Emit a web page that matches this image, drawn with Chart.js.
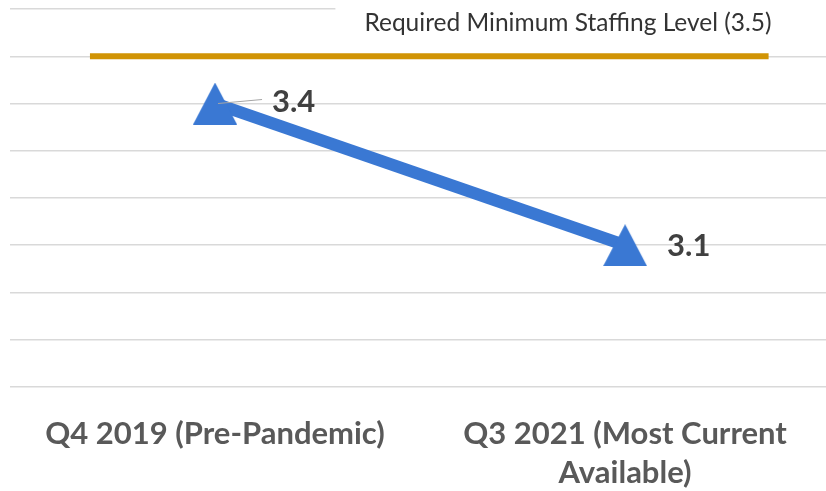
<!DOCTYPE html>
<html>
<head>
<meta charset="utf-8">
<script src="https://cdn.jsdelivr.net/npm/chart.js@4/dist/chart.umd.min.js"></script>
<style>
  html, body { margin: 0; padding: 0; background: #fff; }
  #wrap { width: 826px; height: 491px; }
</style>
</head>
<body>
<div id="wrap"><canvas id="myChart"></canvas></div>
<script>
// categories sit at x = 0 and x = 1 on a linear axis
const categories = [
    'Q4 2019 (Pre-Pandemic)',
    ['Q3 2021 (Most Current', 'Available)']
];
const staffing = [3.4, 3.1];
const staffingLabels = ['3.4', '3.1'];

const requiredLevel = 3.5;
const requiredLabel = 'Required Minimum Staffing Level (3.5)';
const requiredSpan = [-0.305, 1.35];   // how far the reference line runs, in category units

const yTicks = [2.8, 2.9, 3.0, 3.1, 3.2, 3.3, 3.4, 3.5, 3.6];

const blue = '#3a78d3';
const gold = '#d19405';

// Excel-style triangle marker, centred on its bounding box
function makeTriangle(w, h, color) {
    const c = document.createElement('canvas');
    c.width = w;
    c.height = h;
    const g = c.getContext('2d');
    g.fillStyle = color;
    g.beginPath();
    g.moveTo(w / 2, 0);
    g.lineTo(w, h);
    g.lineTo(0, h);
    g.closePath();
    g.fill();
    return c;
}
const triangle = makeTriangle(44, 42, blue);

// labels for the points + the reference line caption
const labelPlugin = {
    id: 'labels',
    beforeDatasetsDraw(chart) {
        const ctx = chart.ctx;
        const meta = chart.getDatasetMeta(1);
        const last = meta.data[meta.data.length - 1];
        ctx.save();
        ctx.font = '24.5px Lato';
        const w = ctx.measureText(requiredLabel).width;
        // white box hides the top gridline behind the caption
        ctx.fillStyle = '#fff';
        ctx.fillRect(last.x - w - 26, 0, chart.width, last.y - 12);
        ctx.fillStyle = '#333333';
        ctx.textAlign = 'right';
        ctx.textBaseline = 'middle';
        ctx.fillText(requiredLabel, last.x + 3, last.y - 33);
        ctx.restore();
    },
    afterDatasetsDraw(chart) {
        const ctx = chart.ctx;
        const meta = chart.getDatasetMeta(0);
        ctx.save();
        ctx.font = 'bold 31px Lato';
        ctx.fillStyle = '#404040';
        ctx.textAlign = 'left';
        ctx.textBaseline = 'middle';
        meta.data.forEach((pt, i) => {
            if (i === 0) {
                // leader line
                ctx.strokeStyle = '#a6a6a6';
                ctx.lineWidth = 1.2;
                ctx.beginPath();
                ctx.moveTo(pt.x + 3, pt.y);
                ctx.lineTo(pt.x + 47, pt.y - 4);
                ctx.stroke();
                ctx.fillText(staffingLabels[i], pt.x + 57, pt.y - 2);
            } else {
                ctx.fillText(staffingLabels[i], pt.x + 42, pt.y + 1);
            }
        });
        ctx.restore();
    }
};

const ctx = document.getElementById('myChart');

new Chart(ctx, {
    type: 'line',
    data: {
        datasets: [{
            label: 'Staffing',
            data: staffing.map((v, i) => ({ x: i, y: v })),
            borderColor: blue,
            backgroundColor: blue,
            borderWidth: 12,
            tension: 0,
            pointStyle: triangle,
            pointRadius: 22,
            pointHoverRadius: 22,
            order: 1
        }, {
            label: 'Required',
            data: requiredSpan.map(x => ({ x: x, y: requiredLevel })),
            borderColor: gold,
            borderWidth: 6,
            pointRadius: 0,
            borderCapStyle: 'butt',
            order: 2
        }]
    },
    plugins: [labelPlugin],
    options: {
        responsive: true,
        maintainAspectRatio: false,
        animation: false,
        layout: {
            autoPadding: false,
            padding: { left: 10, right: 0, top: 9, bottom: -20 }
        },
        plugins: {
            legend: { display: false },
            tooltip: { enabled: false }
        },
        scales: {
            x: {
                type: 'linear',
                min: -0.5,
                max: 1.49,
                afterBuildTicks(axis) {
                    axis.ticks = categories.map((c, i) => ({ value: i }));
                },
                grid: { display: false },
                border: { display: false },
                ticks: {
                    padding: 19,
                    color: '#595959',
                    font: { family: 'Lato', size: 31, weight: 'bold', lineHeight: '39px' },
                    maxRotation: 0,
                    autoSkip: false,
                    callback: (v) => categories[v]
                }
            },
            y: {
                min: 2.8,
                max: 3.6,
                afterBuildTicks(axis) {
                    axis.ticks = yTicks.map(v => ({ value: v }));
                },
                grid: { color: '#d9d9d9', lineWidth: 1.5, drawTicks: false },
                border: { display: false },
                ticks: { display: false }
            }
        }
    }
});
</script>
</body>
</html>
